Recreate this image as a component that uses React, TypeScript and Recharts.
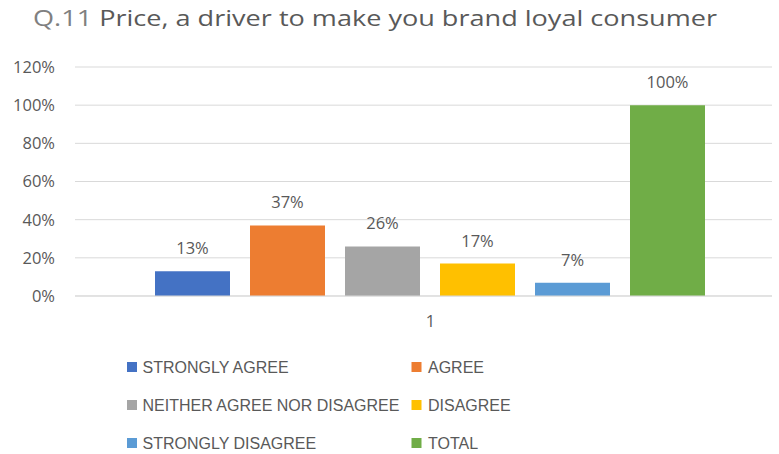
import React from 'react';
import { BarChart, Bar, XAxis, YAxis, CartesianGrid, LabelList } from 'recharts';

const categories = ['1'];
const seriesNames = [
  'STRONGLY AGREE',
  'AGREE',
  'NEITHER AGREE NOR DISAGREE',
  'DISAGREE',
  'STRONGLY DISAGREE',
  'TOTAL',
];
const seriesValues = [0.13, 0.37, 0.26, 0.17, 0.07, 1.0];
const seriesColors = ['#4472C4', '#ED7D31', '#A5A5A5', '#FFC000', '#5B9BD5', '#70AD47'];
const yTicks = [0, 0.2, 0.4, 0.6, 0.8, 1.0, 1.2];
const titleQ = 'Q.11';
const titleText = ' Price, a driver to make you brand loyal consumer';

const data = categories.map((c) => {
  const row: Record<string, any> = { name: c };
  seriesNames.forEach((_, i) => {
    row['s' + i] = seriesValues[i];
  });
  return row;
});

const pct = (v: any) => `${Math.round(Number(v) * 100)}%`;
const FONT = "'Open Sans', 'Liberation Sans', sans-serif";
const LFONT = "'Liberation Sans', Arial, sans-serif";
const TEXT = '#595959';

export default function App() {
  return (
    <div style={{ position: 'absolute', left: 0, top: 0, width: 779, height: 454, background: '#fff', fontFamily: FONT }}>
      <BarChart
        width={779}
        height={454}
        data={data}
        margin={{ top: 67, right: 7, bottom: 128, left: 0 }}
        barCategoryGap={66}
        barGap={20}
      >
        <CartesianGrid vertical={false} stroke="#d9d9d9" />
        <XAxis
          dataKey="name"
          height={30}
          padding={{ left: 14, right: 0 }}
          axisLine={{ stroke: '#d9d9d9' }}
          tickLine={false}
          tickSize={0}
          tickMargin={19}
          tick={{ fill: TEXT, fontSize: 16.5, fontFamily: FONT }}
        />
        <YAxis
          width={75}
          domain={[0, 1.2]}
          ticks={yTicks}
          tickFormatter={pct}
          axisLine={false}
          tickLine={false}
          tickSize={0}
          tickMargin={20}
          tick={{ fill: TEXT, fontSize: 16.5, fontFamily: FONT }}
        />
        {seriesNames.map((n, i) => (
          <Bar key={n} dataKey={'s' + i} name={n} fill={seriesColors[i]} isAnimationActive={false}>
            <LabelList
              dataKey={'s' + i}
              position="top"
              offset={17}
              formatter={pct}
              style={{ fill: TEXT, fontSize: 16.5, fontFamily: FONT }}
            />
          </Bar>
        ))}
      </BarChart>
      <svg
        width={779}
        height={454}
        style={{ position: 'absolute', left: 0, top: 0, pointerEvents: 'none' }}
      >
        <text x={33} y={26} fontSize={22.5} fontFamily={FONT} textLength={684} lengthAdjust="spacingAndGlyphs">
          <tspan fill="#808080">{titleQ}</tspan>
          <tspan fill={TEXT}>{titleText}</tspan>
        </text>
        {seriesNames.map((n, i) => {
          const col = i % 2;
          const row = Math.floor(i / 2);
          const sx = col === 0 ? 127 : 411.5;
          const tx = col === 0 ? 142.5 : 428;
          const cy = 367 + row * 38;
          return (
            <g key={n}>
              <rect x={sx} y={cy - 5} width={10} height={10} fill={seriesColors[i]} />
              <text x={tx} y={cy + 5.8} fontSize={16} fontFamily={LFONT} fill={TEXT}>
                {n}
              </text>
            </g>
          );
        })}
      </svg>
    </div>
  );
}
